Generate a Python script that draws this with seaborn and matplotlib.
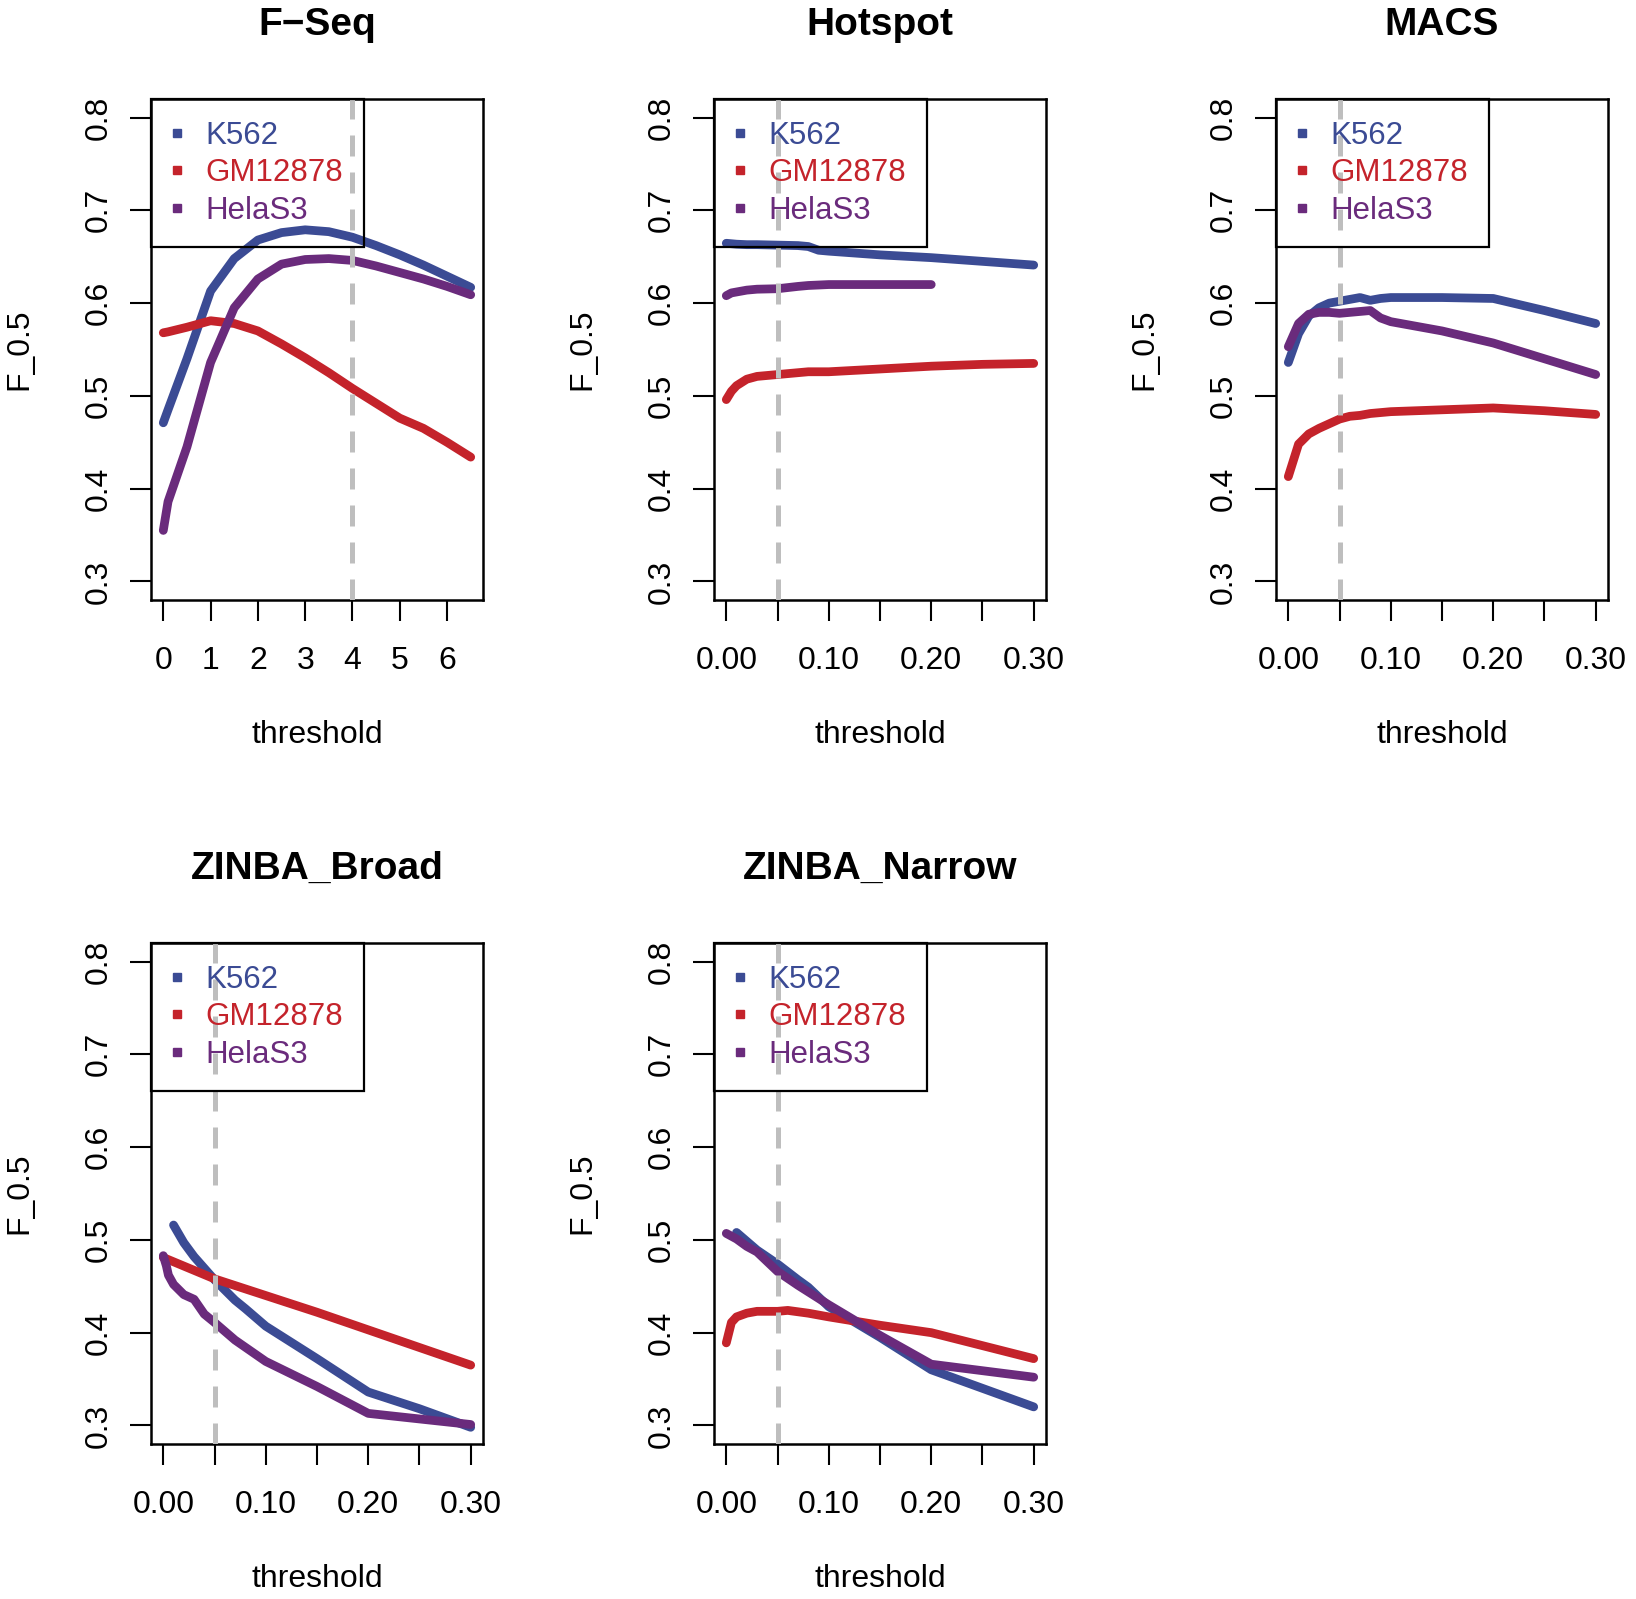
import numpy as np
import pandas as pd
import matplotlib
matplotlib.use("Agg")
import matplotlib.pyplot as plt
from matplotlib.lines import Line2D
import seaborn as sns

# ---------------- data ----------------
CELLS = ["K562", "GM12878", "HelaS3"]
COLORS = ["#3B4B94", "#C4232B", "#6A2B7C"]
TITLES = ["F\u2212Seq", "Hotspot", "MACS", "ZINBA_Broad", "ZINBA_Narrow"]
CUTOFFS = [4, 0.05, 0.05, 0.05, 0.05]

# F-Seq
FSEQ_X = [0, 0.1, 0.5, 1, 1.5, 2, 2.5, 3, 3.5, 4, 4.5, 5, 5.5, 6, 6.5]
FSEQ_K562 = [0.471, 0.485, 0.540, 0.613, 0.648, 0.668, 0.676, 0.679, 0.677, 0.671, 0.662, 0.652, 0.641, 0.629, 0.617]
FSEQ_GM = [0.568, 0.569, 0.574, 0.581, 0.578, 0.570, 0.556, 0.541, 0.525, 0.508, 0.492, 0.476, 0.465, 0.450, 0.434]
FSEQ_HELA = [0.355, 0.386, 0.445, 0.536, 0.595, 0.626, 0.642, 0.647, 0.648, 0.646, 0.640, 0.633, 0.626, 0.618, 0.609]

# Hotspot
HOT_X = [0, 0.005, 0.01, 0.02, 0.03, 0.05, 0.07, 0.08, 0.09, 0.1, 0.15, 0.2, 0.25, 0.3]
HOT_K562 = [0.6645, 0.664, 0.6635, 0.663, 0.663, 0.6625, 0.662, 0.661, 0.657, 0.656, 0.652, 0.649, 0.645, 0.641]
HOT_GM = [0.496, 0.505, 0.511, 0.518, 0.521, 0.523, 0.525, 0.526, 0.526, 0.526, 0.529, 0.532, 0.534, 0.535]
HOT_HELA_X = [0, 0.005, 0.01, 0.02, 0.03, 0.05, 0.07, 0.08, 0.09, 0.1, 0.15, 0.2]
HOT_HELA = [0.608, 0.611, 0.612, 0.614, 0.615, 0.6155, 0.618, 0.619, 0.6195, 0.620, 0.620, 0.620]

# MACS
MACS_X = [0, 0.01, 0.02, 0.03, 0.04, 0.05, 0.06, 0.07, 0.08, 0.09, 0.1, 0.15, 0.2, 0.25, 0.3]
MACS_K562 = [0.536, 0.567, 0.586, 0.595, 0.600, 0.602, 0.604, 0.606, 0.603, 0.605, 0.606, 0.606, 0.605, 0.592, 0.578]
MACS_GM = [0.413, 0.448, 0.459, 0.465, 0.470, 0.475, 0.478, 0.479, 0.481, 0.482, 0.483, 0.485, 0.487, 0.484, 0.480]
MACS_HELA = [0.553, 0.578, 0.588, 0.590, 0.590, 0.589, 0.590, 0.591, 0.592, 0.584, 0.580, 0.570, 0.557, 0.540, 0.523]

# ZINBA_Broad
BROAD_K562_X = [0.01, 0.02, 0.03, 0.05, 0.07, 0.08, 0.1, 0.15, 0.2, 0.25, 0.3]
BROAD_K562 = [0.516, 0.497, 0.482, 0.457, 0.435, 0.426, 0.407, 0.372, 0.336, 0.318, 0.298]
BROAD_GM_X = [0, 0.05, 0.1, 0.15, 0.2, 0.25, 0.3]
BROAD_GM = [0.481, 0.458, 0.440, 0.422, 0.403, 0.384, 0.365]
BROAD_HELA_X = [0, 0.003, 0.005, 0.01, 0.02, 0.03, 0.04, 0.05, 0.07, 0.1, 0.15, 0.2, 0.25, 0.3]
BROAD_HELA = [0.483, 0.472, 0.462, 0.452, 0.441, 0.436, 0.420, 0.411, 0.392, 0.369, 0.342, 0.313, 0.307, 0.301]

# ZINBA_Narrow
NARROW_K562_X = [0.01, 0.03, 0.05, 0.07, 0.08, 0.1, 0.15, 0.2, 0.25, 0.3]
NARROW_K562 = [0.508, 0.489, 0.474, 0.457, 0.449, 0.428, 0.395, 0.360, 0.340, 0.320]
NARROW_GM_X = [0, 0.005, 0.01, 0.02, 0.03, 0.05, 0.06, 0.08, 0.1, 0.15, 0.2, 0.25, 0.3]
NARROW_GM = [0.389, 0.411, 0.417, 0.421, 0.423, 0.423, 0.424, 0.421, 0.417, 0.408, 0.400, 0.386, 0.372]
NARROW_HELA_X = [0, 0.01, 0.02, 0.03, 0.05, 0.07, 0.1, 0.15, 0.2, 0.25, 0.3]
NARROW_HELA = [0.507, 0.501, 0.493, 0.487, 0.466, 0.451, 0.430, 0.397, 0.366, 0.359, 0.352]

FSEQ_TICKS = [0, 1, 2, 3, 4, 5, 6]
FSEQ_TICKLABELS = ["0", "1", "2", "3", "4", "5", "6"]
THR_TICKS = [0, 0.05, 0.10, 0.15, 0.20, 0.25, 0.30]
THR_TICKLABELS = ["0.00", "", "0.10", "", "0.20", "", "0.30"]
Y_TICKS = [0.3, 0.4, 0.5, 0.6, 0.7, 0.8]
Y_TICKLABELS = ["0.3", "0.4", "0.5", "0.6", "0.7", "0.8"]

PANELS = [
    [(FSEQ_X, FSEQ_K562), (FSEQ_X, FSEQ_GM), (FSEQ_X, FSEQ_HELA)],
    [(HOT_X, HOT_K562), (HOT_X, HOT_GM), (HOT_HELA_X, HOT_HELA)],
    [(MACS_X, MACS_K562), (MACS_X, MACS_GM), (MACS_X, MACS_HELA)],
    [(BROAD_K562_X, BROAD_K562), (BROAD_GM_X, BROAD_GM), (BROAD_HELA_X, BROAD_HELA)],
    [(NARROW_K562_X, NARROW_K562), (NARROW_GM_X, NARROW_GM), (NARROW_HELA_X, NARROW_HELA)],
]

# ---------------- style ----------------
sns.set_style("ticks")
plt.rcParams["font.family"] = ["Liberation Sans", "DejaVu Sans"]
plt.rcParams["text.color"] = "black"
plt.rcParams["axes.labelcolor"] = "black"
plt.rcParams["xtick.color"] = "black"
plt.rcParams["ytick.color"] = "black"

W, H = 1636, 1599
fig = plt.figure(figsize=(W / 100, H / 100), dpi=100)

col_left = [151, 714, 1276]
row_top = [99, 943]
ax_w, ax_h = 332, 501

palette = dict(zip(CELLS, COLORS))

for i, (title, series, cut) in enumerate(zip(TITLES, PANELS, CUTOFFS)):
    r, c = divmod(i, 3)
    left = col_left[c] / W
    bottom = (H - row_top[r] - ax_h) / H
    ax = fig.add_axes([left, bottom, ax_w / W, ax_h / H])

    frames = []
    for cell, (xs, ys) in zip(CELLS, series):
        frames.append(pd.DataFrame({"threshold": xs, "F_0.5": ys, "cell": cell}))
    df = pd.concat(frames, ignore_index=True)

    sns.lineplot(data=df, x="threshold", y="F_0.5", hue="cell", hue_order=CELLS,
                 palette=palette, sort=False, estimator=None, legend=False,
                 linewidth=6.3, solid_capstyle="round", solid_joinstyle="round", ax=ax)

    ax.axvline(cut, color="#BEBEBE", lw=3.6, dashes=(4.2, 3.2), zorder=5)

    xmin, xmax = df["threshold"].min(), df["threshold"].max()
    rng = xmax - xmin
    ax.set_xlim(xmin - 0.04 * rng, xmax + 0.04 * rng)
    ax.set_ylim(0.28, 0.82)

    if i == 0:
        ax.set_xticks(FSEQ_TICKS)
        ax.set_xticklabels(FSEQ_TICKLABELS)
    else:
        ax.set_xticks(THR_TICKS)
        ax.set_xticklabels(THR_TICKLABELS)
    ax.set_yticks(Y_TICKS)
    ax.set_yticklabels(Y_TICKLABELS, rotation=90, va="center")

    ax.tick_params(axis="both", direction="out", length=15, width=1.5,
                   labelsize=23, color="black", labelcolor="black")
    ax.tick_params(axis="x", pad=18)
    ax.tick_params(axis="y", pad=12)
    for sp in ax.spines.values():
        sp.set_visible(True)
        sp.set_linewidth(1.8)
        sp.set_color("black")

    ax.set_xlabel("threshold", fontsize=23, color="black")
    ax.set_ylabel("F_0.5", fontsize=23, color="black")
    ax.xaxis.set_label_coords(0.5, -0.24)
    ax.yaxis.set_label_coords(-0.35, 0.5)

    ax.set_title(title, fontsize=28, fontweight="bold", pad=46, color="black")

    handles = [Line2D([], [], marker="s", color=col, ls="none", markersize=6)
               for col in COLORS]
    leg = ax.legend(handles, CELLS, loc="upper left", borderaxespad=0,
                    fontsize=22.5, labelcolor=COLORS, frameon=True, fancybox=False,
                    borderpad=0.69, handlelength=0.3, handletextpad=0.74,
                    labelspacing=0.24)
    frame = leg.get_frame()
    frame.set_edgecolor("black")
    frame.set_linewidth(1.6)
    frame.set_facecolor("none")
    frame.set_alpha(None)

fig.savefig("out.png", dpi=100, facecolor="white")
